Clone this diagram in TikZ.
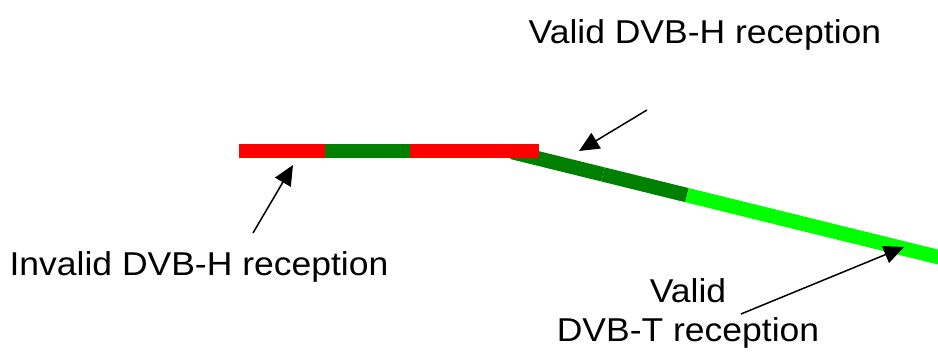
\documentclass[tikz,border=0pt]{standalone}
\usepackage{fontspec}
\setmainfont{Liberation Sans}
\usetikzlibrary{arrows.meta}
\definecolor{badred}{RGB}{255,0,0}
\definecolor{okdark}{RGB}{0,128,0}
\definecolor{oklight}{RGB}{0,255,0}

\begin{document}
\begin{tikzpicture}[
    x=1pt, y=-1pt,
    every node/.style={font=\fontsize{35.5}{42}\selectfont, text=black, inner sep=0pt, yscale=0.93},
    seg/.style={line width=14.5pt, line cap=butt},
    pointer/.style={line width=1.5pt, -{Triangle[length=20pt, width=18pt]}}
]
    \useasboundingbox (0,0) rectangle (938,352);

    % ==========================
    % SLANTED BAND (DVB-T / DVB-H)
    % ==========================
    \begin{scope}
        \clip (0,0) rectangle (938,352);
        \foreach \a/\b/\c in {
            512/603/okdark,
            603/687/okdark,
            687/775/oklight,
            775/860/oklight,
            860/960/oklight}
        {
            \draw[seg, \c] (\a, {152+0.2465*(\a-512)}) -- (\b, {152+0.2465*(\b-512)});
        }
    \end{scope}

    % ==========================
    % HORIZONTAL BAR
    % ==========================
    \foreach \a/\b/\c in {239/325/badred, 325/410/okdark, 410/539/badred}
    {
        \draw[seg, \c] (\a,151) -- (\b,151);
    }

    % labels
    \node[anchor=base] (invalid) at (199,275.5) {Invalid DVB-H reception};
    \node[anchor=base] (validH) at (705,43.5) {Valid DVB-H reception};
    % base of a two-line node sits on its last line
    \node[anchor=base, align=center] (validT) at (688,342) {Valid\\DVB-T reception};

    % arrow ends
    \coordinate (invalidFrom) at (253,233);
    \coordinate (invalidTo) at (293,165);
    \coordinate (validHFrom) at (647,110);
    \coordinate (validHTo) at (579,151);
    \coordinate (validTFrom) at (741,314);
    \coordinate (validTTo) at (904,247);

    \draw[pointer] (invalidFrom) -- (invalidTo);
    \draw[pointer] (validHFrom) -- (validHTo);
    \draw[pointer] (validTFrom) -- (validTTo);

\end{tikzpicture}
\end{document}
